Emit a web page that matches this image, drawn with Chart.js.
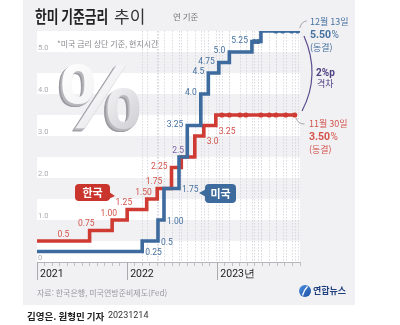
<!DOCTYPE html>
<html lang="ko">
<head>
<meta charset="utf-8">
<script src="https://cdn.jsdelivr.net/npm/chart.js@4.4.1/dist/chart.umd.min.js"></script>
<style>
  html, body { margin: 0; padding: 0; background: #fff; }
  #wrap { width: 400px; height: 325px; }
</style>
</head>
<body>
<div id="wrap"><canvas id="rateChart" width="400" height="325"></canvas></div>
<script>
// x값은 2021년 1월을 0으로 한 월 단위
const koreaSteps = [0, 7.0, 10.0, 12.0, 14.6, 16.0, 17.9, 19.2, 21.0, 22.2, 23.8];
const koreaRates = [0.5, 0.75, 1.00, 1.25, 1.50, 1.75, 2.25, 2.50, 3.00, 3.25, 3.50];
const koreaHolds = [24.6, 25.6, 27.0, 27.8, 29.8, 30.9, 31.8, 33.1, 34.3];
const koreaHoldRates = [3.5, 3.5, 3.5, 3.5, 3.5, 3.5, 3.5, 3.5, 3.5];
const koreaEnd = 34.4;
const koreaLabels = ['0.5', '0.75', '1.00', '1.25', '1.50', '1.75', '2.25', null, '3.0', '3.25', null];

const usSteps = [0, 14.0, 16.1, 16.9, 18.9, 20.0, 21.8, 22.8, 24.2, 25.6, 28.6, 29.8];
const usRates = [0.25, 0.5, 1.00, 1.75, 2.50, 3.25, 4.00, 4.50, 4.75, 5.00, 5.25, 5.50];
const usHolds = [28.9, 29.4, 31.8, 32.7, 33.9, 34.7];
const usHoldRates = [5.25, 5.25, 5.5, 5.5, 5.5, 5.5];
const usEnd = 34.7;
const usLabels = ['0.25', '0.5', '1.00', '1.75', '2.5', '3.25', '4.0', '4.5', '4.75', '5.0', '5.25', null];

const yearTicks = [0, 12, 24];
const yearLabels = ['2021', '2022', '2023년'];

// 라벨 위치 방식 (값 배열과 별도)
const koreaAnchors = ['mid', 'corner', 'corner', 'corner', 'corner', 'corner', 'before', null, 'afterBelow', 'afterBelow', null];
const usAnchors = ['after', 'after', 'after', 'after', 'corner', 'before', 'before', 'before', 'before', 'before', 'before', null];
const sharedLabels = ['2.5'];

const BLUE = '#3d6b9e';
const RED = '#cf3b33';
const BLUE_TEXT = '#44709f';
const RED_TEXT = '#d4524a';
const PURPLE = '#7b5fa6';
const NUM_FONT = '"Roboto", "Liberation Sans", sans-serif';
const KR_FONT = '"Noto Sans CJK KR", "Noto Sans", sans-serif';

const toPoints = (steps, rates, end) => {
  const pts = steps.map((m, i) => ({ x: m, y: rates[i] }));
  pts.push({ x: end, y: rates[rates.length - 1] });
  return pts;
};
const holdPoints = (holds, rates) => holds.map((m, i) => ({ x: m, y: rates[i] }));

const roundRect = (ctx, x, y, w, h, r) => {
  ctx.beginPath();
  ctx.moveTo(x + r, y);
  ctx.arcTo(x + w, y, x + w, y + h, r);
  ctx.arcTo(x + w, y + h, x, y + h, r);
  ctx.arcTo(x, y + h, x, y, r);
  ctx.arcTo(x, y, x + w, y, r);
  ctx.closePath();
};

// 회색 바탕 + 0.5 간격 흰 띠
const backdrop = {
  id: 'backdrop',
  beforeDraw(chart) {
    const { ctx, chartArea: a, scales: { y } } = chart;
    ctx.save();
    ctx.fillStyle = '#ffffff';
    ctx.fillRect(0, 0, chart.width, chart.height);
    ctx.fillStyle = '#f1f1f4';
    ctx.fillRect(23, 0, 332, 305);
    ctx.fillStyle = '#ffffff';
    for (let v = 0; v < 5.5; v += 1) {
      const top = y.getPixelForValue(v + 0.5);
      const bot = y.getPixelForValue(v);
      ctx.fillRect(a.left, top, a.right - a.left, bot - top);
    }
    ctx.restore();
  }
};

// 회의 날짜 점선 + 큰 % 장식
const underlay = {
  id: 'underlay',
  beforeDatasetsDraw(chart) {
    const { ctx, scales: { x, y } } = chart;
    ctx.save();
    ctx.strokeStyle = '#d2d2d9';
    ctx.lineWidth = 0.8;
    ctx.setLineDash([1.5, 1.5]);
    const marks = [...usSteps, ...koreaSteps, ...usHolds, ...koreaHolds].filter(m => m >= 14);
    marks.forEach(m => {
      const px = Math.round(x.getPixelForValue(m)) + 0.5;
      ctx.beginPath();
      ctx.moveTo(px, y.getPixelForValue(5.5));
      ctx.lineTo(px, y.getPixelForValue(0));
      ctx.stroke();
    });
    ctx.setLineDash([]);

    // 입체 % 기호
    ctx.font = 'bold 92px "Liberation Sans", sans-serif';
    ctx.textBaseline = 'alphabetic';
    for (let k = 6; k >= 1; k--) {
      ctx.fillStyle = k > 3 ? '#9c9ca2' : '#b8b8bd';
      ctx.fillText('%', 60 - k * 0.6, 128 + k * 0.5);
    }
    const g = ctx.createLinearGradient(58, 62, 130, 128);
    g.addColorStop(0, '#ffffff');
    g.addColorStop(0.55, '#f3f3f5');
    g.addColorStop(1, '#d3d3d8');
    ctx.fillStyle = g;
    ctx.fillText('%', 60, 128);
    ctx.restore();
  }
};

const drawStepLabels = (ctx, xs, ys, steps, rates, end, texts, anchors, color) => {
  texts.forEach((t, i) => {
    if (!t) return;
    const x0 = xs.getPixelForValue(steps[i]);
    const x1 = xs.getPixelForValue(i + 1 < steps.length ? steps[i + 1] : end);
    const y = ys.getPixelForValue(rates[i]);
    ctx.fillStyle = sharedLabels.includes(t) ? PURPLE : color;
    switch (anchors[i]) {
      case 'mid':
        ctx.textAlign = 'center'; ctx.textBaseline = 'bottom';
        ctx.fillText(t, (x0 + x1) / 2, y - 2);
        break;
      case 'corner':
        ctx.textAlign = 'right'; ctx.textBaseline = 'bottom';
        ctx.fillText(t, x0 + 5, y - 2);
        break;
      case 'before':
        ctx.textAlign = 'right'; ctx.textBaseline = 'middle';
        ctx.fillText(t, x0 - 4, y - 1);
        break;
      case 'after':
        ctx.textAlign = 'left'; ctx.textBaseline = 'middle';
        ctx.fillText(t, x1 + 3, y + 1.5);
        break;
      case 'afterBelow':
        ctx.textAlign = 'left'; ctx.textBaseline = 'top';
        ctx.fillText(t, x1 + 3, y + 2);
        break;
    }
  });
};

const overlay = {
  id: 'overlay',
  afterDraw(chart) {
    const { ctx, scales: { x, y } } = chart;
    ctx.save();

    // 연도 눈금 길게
    ctx.strokeStyle = '#a9a9ae';
    ctx.lineWidth = 1;
    yearTicks.forEach(m => {
      const px = Math.round(x.getPixelForValue(m)) + 0.5;
      ctx.beginPath();
      ctx.moveTo(px, y.getPixelForValue(0));
      ctx.lineTo(px, y.getPixelForValue(0) + 18);
      ctx.stroke();
    });

    // 단계별 금리 숫자
    ctx.font = `8.5px ${NUM_FONT}`;
    drawStepLabels(ctx, x, y, koreaSteps, koreaRates, koreaEnd, koreaLabels, koreaAnchors, RED_TEXT);
    drawStepLabels(ctx, x, y, usSteps, usRates, usEnd, usLabels, usAnchors, BLUE_TEXT);

    // 제목
    ctx.fillStyle = '#222';
    ctx.textAlign = 'left';
    ctx.textBaseline = 'middle';
    ctx.save();
    ctx.translate(35, 17);
    ctx.scale(0.75, 1);
    ctx.font = `bold 17px ${KR_FONT}`;
    ctx.fillText('한미 기준금리', 0, 0);
    ctx.restore();
    ctx.font = `17px ${KR_FONT}`;
    ctx.fillStyle = '#333';
    ctx.fillText('추이', 114, 17);
    ctx.font = `8.5px ${KR_FONT}`;
    ctx.fillStyle = '#777';
    ctx.fillText('연 기준', 173, 17);
    ctx.font = `8px ${KR_FONT}`;
    ctx.fillStyle = '#8a8a8f';
    ctx.fillText('*미국 금리 상단 기준, 현지시간', 57, 44);

    // 말풍선
    ctx.fillStyle = '#c9342c';
    roundRect(ctx, 75, 184, 35, 17, 4);
    ctx.fill();
    ctx.beginPath();
    ctx.moveTo(106, 190); ctx.lineTo(115, 196); ctx.lineTo(106, 200);
    ctx.closePath(); ctx.fill();
    ctx.fillStyle = BLUE;
    roundRect(ctx, 205, 184, 31, 19, 4);
    ctx.fill();
    ctx.beginPath();
    ctx.moveTo(208, 188); ctx.lineTo(199, 193); ctx.lineTo(208, 198);
    ctx.closePath(); ctx.fill();
    ctx.fillStyle = '#fff';
    ctx.font = `bold 11px ${KR_FONT}`;
    ctx.textAlign = 'center';
    ctx.fillText('한국', 92.5, 192.5);
    ctx.fillText('미국', 220.5, 193.5);

    // 오른쪽 최신 금리 설명
    const usLastX = x.getPixelForValue(usEnd);
    const usLastY = y.getPixelForValue(usRates[usRates.length - 1]);
    const krLastX = x.getPixelForValue(koreaEnd);
    const krLastY = y.getPixelForValue(koreaRates[koreaRates.length - 1]);
    ctx.strokeStyle = '#9a9aa0';
    ctx.lineWidth = 0.9;
    ctx.beginPath();
    ctx.moveTo(usLastX + 2, usLastY - 3);
    ctx.quadraticCurveTo(usLastX + 4, usLastY - 10, usLastX + 9, usLastY - 10);
    ctx.stroke();
    ctx.beginPath();
    ctx.moveTo(krLastX + 1, krLastY + 3);
    ctx.quadraticCurveTo(krLastX + 2, krLastY + 9, krLastX + 9, krLastY + 9);
    ctx.stroke();

    ctx.textAlign = 'left';
    ctx.fillStyle = BLUE_TEXT;
    ctx.font = `9px ${KR_FONT}`;
    ctx.fillText('12월 13일', 310, 22);
    ctx.fillText('(동결)', 310, 48);
    ctx.font = `bold 10.5px ${NUM_FONT}`;
    ctx.fillText('5.50', 310, 35.5);
    let w = ctx.measureText('5.50').width;
    ctx.font = `10px ${NUM_FONT}`;
    ctx.fillText('%', 310 + w + 0.5, 35.5);

    ctx.fillStyle = RED_TEXT;
    ctx.font = `9px ${KR_FONT}`;
    ctx.fillText('11월 30일', 309, 124);
    ctx.fillText('(동결)', 309, 150);
    ctx.font = `bold 10.5px ${NUM_FONT}`;
    ctx.fillText('3.50', 309, 137.5);
    w = ctx.measureText('3.50').width;
    ctx.font = `10px ${NUM_FONT}`;
    ctx.fillText('%', 309 + w + 0.5, 137.5);

    // 격차 괄호
    ctx.strokeStyle = '#5d4e8f';
    ctx.lineWidth = 1.2;
    ctx.beginPath();
    ctx.moveTo(304, usLastY + 5);
    ctx.quadraticCurveTo(321, 75, 302, krLastY - 4);
    ctx.stroke();
    ctx.fillStyle = '#4e3f82';
    ctx.font = `bold 10px ${NUM_FONT}`;
    ctx.fillText('2%p', 316, 73);
    ctx.font = `9px ${KR_FONT}`;
    ctx.fillText('격차', 317, 83.5);

    // 출처, 로고, 기자
    ctx.fillStyle = '#9a9a9f';
    ctx.font = `8px ${KR_FONT}`;
    ctx.fillText('자료: 한국은행, 미국연방준비제도(Fed)', 37, 293);

    const lg = ctx.createLinearGradient(299, 285, 311, 297);
    lg.addColorStop(0, '#4d8fe0');
    lg.addColorStop(1, '#1c4fa3');
    ctx.fillStyle = lg;
    ctx.beginPath();
    ctx.arc(305, 291, 6, 0, Math.PI * 2);
    ctx.fill();
    ctx.strokeStyle = '#fff';
    ctx.lineWidth = 1.3;
    ctx.beginPath();
    ctx.moveTo(307.5, 286.5);
    ctx.quadraticCurveTo(304, 290, 302.5, 295.5);
    ctx.stroke();
    ctx.fillStyle = '#1f3f7e';
    ctx.font = `bold 9px ${KR_FONT}`;
    ctx.fillText('연합뉴스', 313, 291);

    ctx.fillStyle = '#222';
    ctx.font = `bold 9.5px ${KR_FONT}`;
    ctx.fillText('김영은. 원형민 기자', 27, 316);
    ctx.font = `9px ${NUM_FONT}`;
    ctx.fillStyle = '#333';
    ctx.fillText('20231214', 108, 316);
    ctx.restore();
  }
};

const rateCtx = document.getElementById('rateChart');
const rateChart = new Chart(rateCtx, {
  type: 'line',
  data: {
    datasets: [
      {
        label: '미국 동결',
        data: holdPoints(usHolds, usHoldRates),
        showLine: false,
        pointRadius: 2.6,
        pointBackgroundColor: BLUE,
        pointBorderWidth: 0
      },
      {
        label: '한국 동결',
        data: holdPoints(koreaHolds, koreaHoldRates),
        showLine: false,
        pointRadius: 2.6,
        pointBackgroundColor: RED,
        pointBorderWidth: 0
      },
      {
        label: '미국',
        data: toPoints(usSteps, usRates, usEnd),
        stepped: 'before',
        borderColor: BLUE,
        borderWidth: 3.6,
        borderJoinStyle: 'miter',
        pointRadius: 0,
        fill: false
      },
      {
        label: '한국',
        data: toPoints(koreaSteps, koreaRates, koreaEnd),
        stepped: 'before',
        borderColor: RED,
        borderWidth: 3.6,
        borderJoinStyle: 'miter',
        pointRadius: 0,
        fill: false
      }
    ]
  },
  options: {
    responsive: false,
    animation: false,
    devicePixelRatio: 1,
    layout: { padding: { left: 37, right: 100, top: 31, bottom: 43 } },
    plugins: {
      legend: { display: false },
      tooltip: { enabled: false }
    },
    scales: {
      x: {
        type: 'linear',
        min: 0,
        max: 35,
        afterFit: (scale) => { scale.height = 20; },
        grid: { display: true, drawOnChartArea: false, drawTicks: true, tickLength: 4, color: '#c0c0c5' },
        border: { display: true, color: '#b5b5ba', width: 1 },
        ticks: {
          stepSize: 1,
          maxTicksLimit: 40,
          autoSkip: false,
          maxRotation: 0,
          align: 'start',
          labelOffset: 3,
          padding: 2,
          color: '#222',
          font: { size: 10.5, family: NUM_FONT },
          callback: (v) => {
            const i = yearTicks.indexOf(v);
            return i >= 0 ? yearLabels[i] : '';
          }
        }
      },
      y: {
        min: 0,
        max: 5.5,
        afterFit: (scale) => { scale.width = 0; },
        grid: { display: false },
        border: { display: false },
        ticks: {
          stepSize: 1,
          includeBounds: false,
          mirror: true,
          padding: 1,
          labelOffset: -4,
          color: '#ababb0',
          font: { size: 7.5, family: NUM_FONT },
          callback: (v) => (v === 0 ? '0' : v.toFixed(1))
        }
      }
    }
  },
  plugins: [backdrop, underlay, overlay]
});
</script>
</body>
</html>
